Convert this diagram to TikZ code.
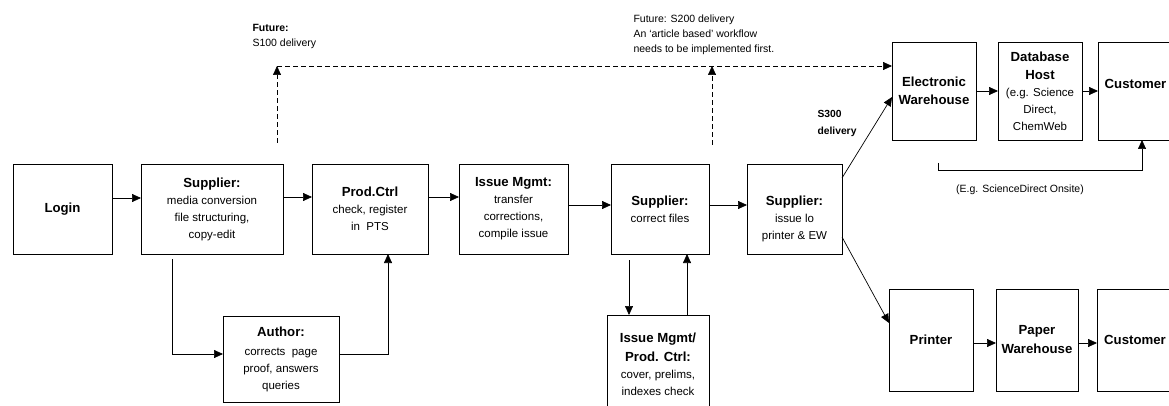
\documentclass[tikz,border=0pt]{standalone}
\usepackage{fontspec}
\setmainfont{Liberation Sans}
\usetikzlibrary{arrows.meta,calc}
\newcommand\mybody{\fontsize{11.5}{17}\selectfont}
\newcommand\mytitle{\fontsize{13.2}{17}\selectfont\bfseries}
\newcommand\mysmall{\fontsize{10.5}{15}\selectfont}
\begin{document}
\begin{tikzpicture}[x=1pt,y=-1pt,
  box/.style={draw, line width=0.8pt, inner sep=0pt, outer sep=0pt, align=center, font=\mybody},
  arr/.style={line width=0.7pt, -{Triangle[length=9pt,width=8pt]}},
  darr/.style={arr, dash pattern=on 5pt off 3pt}]
\useasboundingbox (0,0) rectangle (1169,406);
\clip (0,0) rectangle (1169,406);
% main row
\node[box, minimum width=99pt, minimum height=90pt] (login) at (62.5,209) {\mytitle Login};
\node[box, minimum width=142pt, minimum height=90pt] (sup1) at (212,209)
  {{\mytitle Supplier:}\\media conversion\\file structuring,\\copy-edit};
\node[box, minimum width=116pt, minimum height=90pt] (prod) at (370,209)
  {{\mytitle Prod.Ctrl}\\check, register\\in\ \ PTS};
\node[box, minimum width=109pt, minimum height=90pt] (issue) at (513.5,209)
  {{\mytitle Issue Mgmt:}\\transfer\\corrections,\\compile issue};
\node[box, minimum width=98pt, minimum height=90pt] (sup2) at (660,209)
  {{\mytitle Supplier:}\\correct files};
\node[box, minimum width=95pt, minimum height=90pt] (sup3) at (794.5,209)
  {\mbox{}\\[12pt]{\mytitle Supplier:}\\issue lo\\printer \& EW};
% electronic branch
\node[box, minimum width=84pt, minimum height=98pt] (ew) at (934,91)
  {{\mytitle Electronic}\\[1pt]{\mytitle Warehouse}};
\node[box, minimum width=84pt, minimum height=98pt] (db) at (1040,91)
  {{\mytitle Database}\\[1pt]{\mytitle Host}\\(e.g. Science\\Direct,\\ChemWeb};
\node[box, minimum width=75pt, minimum height=98pt] (cust1) at (1135.5,91)
  {{\mytitle Customer}\\[-3pt]\mbox{}};
% paper branch
\node[box, minimum width=84pt, minimum height=102pt] (printer) at (931,340)
  {\mytitle Printer};
\node[box, minimum width=82pt, minimum height=102pt] (paper) at (1037,340)
  {{\mytitle Paper}\\[2pt]{\mytitle Warehouse}};
\node[box, minimum width=76pt, minimum height=102pt] (cust2) at (1135,340)
  {\mytitle Customer};
% lower boxes
\node[box, minimum width=116pt, minimum height=86pt] (author) at (281,359)
  {{\mytitle Author:}\\[2pt]corrects\ \ page\\proof, answers\\queries};
\node[box, minimum width=102pt, minimum height=99pt] (ipc) at (658,364.5)
  {{\mytitle Issue Mgmt/}\\[2pt]{\mytitle Prod. Ctrl:}\\cover, prelims,\\indexes check};
% labels
\node[anchor=west, align=left, font=\mysmall] (fut1) at (249,36.5)
  {\textbf{Future:}\\S100 delivery};
\node[anchor=west, align=left, font=\mysmall] (fut2) at (630,35)
  {Future: S200 delivery\\An `article based' workflow\\needs to be implemented first.};
\node[anchor=west, align=left, font=\fontsize{10.3}{17}\selectfont\bfseries] (s300) at (814,123)
  {S300\\delivery};
\node[font=\mysmall] (onsite) at (1020,190) {(E.g. ScienceDirect Onsite)};
% connectors main row
\draw[arr] ([yshift=11pt]login.east) -- ([yshift=11pt]sup1.west);
\draw[arr] ([yshift=12pt]sup1.east) -- ([yshift=12pt]prod.west);
\draw[arr] ([yshift=12pt]prod.east) -- ([yshift=12pt]issue.west);
\draw[arr] ([yshift=4pt]issue.east) -- ([yshift=4pt]sup2.west);
\draw[arr] ([yshift=4pt]sup2.east) -- ([yshift=4pt]sup3.west);
\draw[arr] ([yshift=31pt]sup3.east) -- ([yshift=-6pt]ew.west);
\draw[arr] ([yshift=-28pt]sup3.east) -- ([yshift=17pt]printer.west);
\draw[arr] (ew.east) -- (db.west);
\draw[arr] (db.east) -- (cust1.west);
\draw[arr] ([yshift=-3pt]printer.east) -- ([yshift=-3pt]paper.west);
\draw[arr] ([yshift=-3pt]paper.east) -- ([yshift=-3pt]cust2.west);
% author loop
\draw[arr] ([xshift=-40pt,yshift=-5pt]sup1.south) |- ([yshift=5pt]author.west);
\draw[arr] ([yshift=5pt]author.east) -| ([xshift=18pt]prod.south);
% ipc loop
\draw[arr] ([xshift=-31pt,yshift=-6pt]sup2.south) -- ([xshift=-31pt]sup2.south |- ipc.north);
\draw[arr] ([xshift=27pt]sup2.south |- ipc.north) -- ([xshift=27pt]sup2.south);
% onsite feedback
\draw[arr] ([xshift=4pt,yshift=-23pt]ew.south) -- ++(0,7) -| ([xshift=6.5pt]cust1.south);
% future dashed
\coordinate (f1) at (277,66);
\coordinate (f2) at (712,66);
\draw[darr] ([xshift=65pt,yshift=21pt]sup1.north) -- (f1);
\draw[darr] ([xshift=52pt,yshift=19pt]sup2.north) -- (f2);
\draw[darr] (f1) -- (f1 -| ew.west);
\end{tikzpicture}
\end{document}
